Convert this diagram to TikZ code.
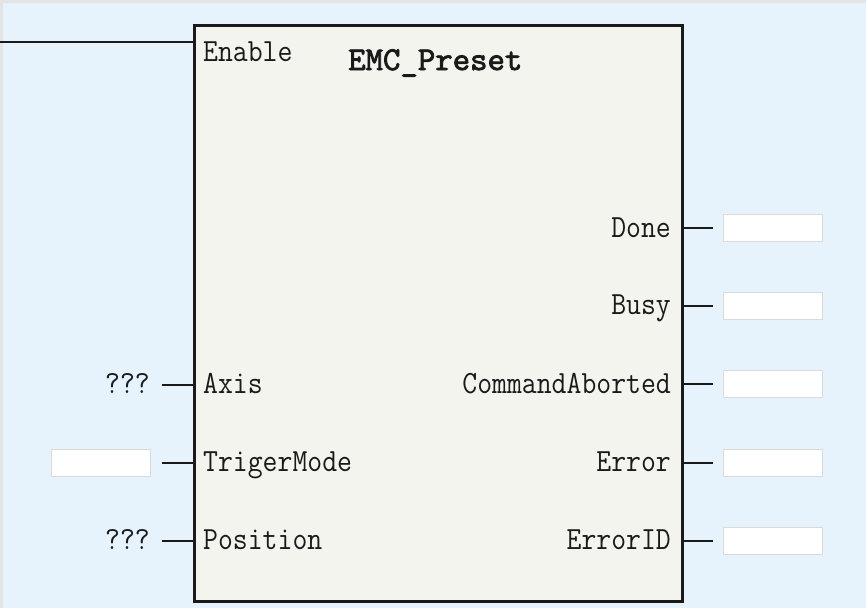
\documentclass[tikz,border=0pt]{standalone}
\usepackage{graphicx}
\usepackage{fontspec}
\setmonofont{Latin Modern Mono}
\newfontfamily\titlefont[FakeBold=2.5]{Latin Modern Mono}
\definecolor{bgc}{HTML}{E6F3FD}
\definecolor{edgec}{HTML}{E4E4E4}
\definecolor{fbfill}{HTML}{F4F4EF}
\definecolor{slotc}{HTML}{DADADA}
\definecolor{ink}{HTML}{1A1A1A}
\newcommand\vs[1]{\scalebox{1}[1.12]{#1}}
\begin{document}
\begin{tikzpicture}[x=1pt,y=-1pt,
  lbl/.style={font=\fontsize{28.9}{28.9}\selectfont\ttfamily, inner sep=0pt, text=ink},
  slotbox/.style={draw=slotc, line width=1.5pt, fill=white, minimum width=99pt, minimum height=27pt, inner sep=0pt},
  pin/.style={line width=2pt, draw=ink}]
\fill[edgec] (0,0) rectangle (866,608);
\fill[bgc] (3,3) rectangle (866,608);
\useasboundingbox (0,0) rectangle (866,608);
% function block
\node[draw=ink, line width=2.5pt, fill=fbfill, minimum width=488pt, minimum height=576pt, anchor=north west, inner sep=0pt] (fb) at (193,24) {};
\node[lbl, anchor=base west] (en) at (203,61) {\vs{Enable}};
\node[lbl, anchor=base west, font=\fontsize{28.9}{28.9}\selectfont\titlefont] (title) at (348,70) {\scalebox{1.17}[1.15]{EMC\_Preset}};
\coordinate (enin) at (0,42);
\draw[pin] (enin) -- (fb.west |- enin);
% right outputs
\node[lbl, anchor=base east] (done) at (671,237) {\vs{Done}};
\node[lbl, anchor=base east] (busy) at (671,314) {\vs{Busy}};
\node[lbl, anchor=base east] (cab) at (671,393) {\vs{CommandAborted}};
\node[lbl, anchor=base east] (err) at (671,471) {\vs{Error}};
\node[lbl, anchor=base east] (eid) at (671,549) {\vs{ErrorID}};
\node[slotbox] (s1) at (773,228) {};
\node[slotbox] (s2) at (773,306) {};
\node[slotbox] (s3) at (773,384) {};
\node[slotbox] (s4) at (773,463) {};
\node[slotbox] (s5) at (773,541) {};
\foreach \s in {s1,s2,s3,s4,s5}
  \draw[pin, shorten >=10pt] (fb.east |- \s) -- (\s.west);
% left inputs
\node[lbl, anchor=base west] (axis) at (203,393) {\vs{Axis}};
\node[lbl, anchor=base west] (trig) at (203,471) {\vs{TrigerMode}};
\node[lbl, anchor=base west] (pos) at (203,549) {\vs{Position}};
\node[lbl, anchor=base east] (q1) at (150,393) {\vs{???}};
\node[lbl, anchor=base east] (q2) at (150,549) {\vs{???}};
\node[slotbox] (ls) at (101,463) {};
\coordinate (a1) at (162,385);
\coordinate (a2) at (162,541);
\draw[pin] (a1) -- (fb.west |- a1);
\draw[pin, shorten <=11pt] (ls.east) -- (fb.west |- ls);
\draw[pin] (a2) -- (fb.west |- a2);
\end{tikzpicture}
\end{document}
